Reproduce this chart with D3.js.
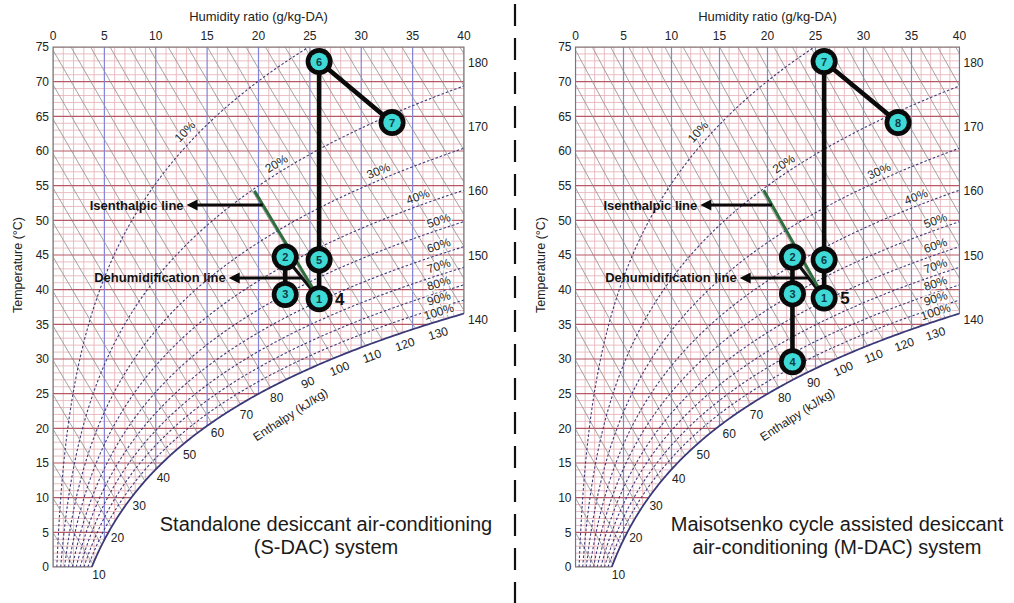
<!DOCTYPE html>
<html>
<head>
<meta charset="utf-8">
<script src="https://cdn.jsdelivr.net/npm/d3@7"></script>
<style>
  body { margin: 0; background: #fff; }
  svg { display: block; }
  text { font-family: Arial, "Liberation Sans", sans-serif; }
</style>
</head>
<body>
<svg id="chart" width="1014" height="603"></svg>
<script>
// ---- axis ticks and chart levels ----
const humidityTicks = [0, 5, 10, 15, 20, 25, 30, 35, 40];
const temperatureTicks = [0, 5, 10, 15, 20, 25, 30, 35, 40, 45, 50, 55, 60, 65, 70, 75];
const rhLevels = [0.1, 0.2, 0.3, 0.4, 0.5, 0.6, 0.7, 0.8, 0.9];
const rhLabels = ["10%", "20%", "30%", "40%", "50%", "60%", "70%", "80%", "90%", "100%"];
const rhLabelW = [13.6, 22.2, 32.0, 35.8, 37.8, 37.8, 37.8, 37.8, 37.8, 37.8];
const saturationLabels = [10, 20, 30, 40, 50, 60, 70, 80, 90, 100, 110, 120, 130];
const edgeEnthalpyLabels = [140, 150, 160, 170, 180];

// ---- state points (humidity ratio g/kg-DA, temperature °C) ----
const sdacStates = [
  { id: "1", w: 25.9, t: 38.7 },
  { id: "2", w: 22.6, t: 44.7 },
  { id: "3", w: 22.6, t: 39.3 },
  { id: "5", w: 25.9, t: 44.3 },
  { id: "6", w: 25.9, t: 72.9 },
  { id: "7", w: 33.0, t: 64.1 }
];
const sdacPaths = [["6", "7"], ["6", "5"], ["5", "1"], ["2", "3"]];

const mdacStates = [
  { id: "1", w: 25.9, t: 38.8 },
  { id: "2", w: 22.6, t: 44.7 },
  { id: "3", w: 22.6, t: 39.4 },
  { id: "4", w: 22.6, t: 29.6 },
  { id: "6", w: 25.9, t: 44.3 },
  { id: "7", w: 25.9, t: 72.9 },
  { id: "8", w: 33.6, t: 64.1 }
];
const mdacPaths = [["7", "8"], ["7", "6"], ["6", "1"], ["2", "3"], ["3", "4"]];

// annotation anchors
const isenthalpicStartW = 19.6;
const isenthalpicArrow = { t: 52.2, headW: 13.0, text: "Isenthalpic line" };
const dehumArrow = { t: 41.7, headW: 17.1, text: "Dehumidification line" };

// ---- moist air relations ----
const P_ATM = 101.325;
const pws = t => 0.61094 * Math.exp(17.625 * t / (t + 243.04));
const wAt = (t, phi) => 622 * phi * pws(t) / (P_ATM - phi * pws(t));
const enthalpy = (t, w) => 1.006 * t + w / 1000 * (2501 + 1.86 * t);
const tOnEnthalpy = (h, w) => (h - 2.501 * w) / (1.006 + 0.00186 * w);
const wOnEnthalpy = (h, t) => (h - 1.006 * t) / (2.501 + 0.00186 * t);
function tAtW(w, phi) {
  let lo = -10, hi = 110;
  for (let i = 0; i < 60; i++) {
    const m = (lo + hi) / 2;
    if (wAt(m, phi) < w) lo = m; else hi = m;
  }
  return (lo + hi) / 2;
}
function tSatForEnthalpy(h) {
  let lo = -10, hi = 80;
  for (let i = 0; i < 60; i++) {
    const m = (lo + hi) / 2;
    if (enthalpy(m, wAt(m, 1)) < h) lo = m; else hi = m;
  }
  return (lo + hi) / 2;
}

const svg = d3.select("#chart");

// dashed separator between the two charts
svg.append("line")
  .attr("x1", 515).attr("x2", 515).attr("y1", 4).attr("y2", 603)
  .attr("stroke", "#111").attr("stroke-width", 2.2)
  .attr("stroke-dasharray", "22,12");

function drawPanel(cfg) {
  const x = d3.scaleLinear().domain([0, 40]).range([cfg.x0, cfg.x1]);
  const y = d3.scaleLinear().domain([0, 75]).range([567, 47]);
  const g = svg.append("g");
  const tEdge = tAtW(40, 1);

  // chart outline: left, top, right edge, saturation curve, bottom
  const satTemps = d3.range(0, tEdge, 0.2).concat([tEdge]);
  const satPts = satTemps.map(t => [x(wAt(t, 1)), y(t)]);
  const outline = [[x(0), y(0)], [x(0), y(75)], [x(40), y(75)], [x(40), y(tEdge)]]
    .concat(satPts.slice().reverse());
  const clipId = "clip-" + cfg.key;
  g.append("clipPath").attr("id", clipId)
    .append("path").attr("d", "M" + outline.map(p => p.join(",")).join("L") + "Z");

  const grid = g.append("g").attr("clip-path", `url(#${clipId})`);
  // minor grid
  d3.range(1, 40).filter(v => v % 5 !== 0).forEach(w => {
    grid.append("line").attr("x1", x(w)).attr("x2", x(w)).attr("y1", y(0)).attr("y2", y(75))
      .attr("stroke", "#e8b6bb").attr("stroke-width", 0.9);
  });
  d3.range(1, 75).filter(v => v % 5 !== 0).forEach(t => {
    grid.append("line").attr("x1", x(0)).attr("x2", x(40)).attr("y1", y(t)).attr("y2", y(t))
      .attr("stroke", "#e8b6bb").attr("stroke-width", 0.9);
  });
  // major grid
  temperatureTicks.forEach(t => {
    grid.append("line").attr("x1", x(0)).attr("x2", x(40)).attr("y1", y(t)).attr("y2", y(t))
      .attr("stroke", "#b85865").attr("stroke-width", 1.1);
  });
  humidityTicks.forEach(w => {
    grid.append("line").attr("x1", x(w)).attr("x2", x(w)).attr("y1", y(0)).attr("y2", y(75))
      .attr("stroke", "#8383d8").attr("stroke-width", 1.2);
  });
  // constant-enthalpy lines
  d3.range(5, 190, 5).forEach(h => {
    const pts = [0, 10, 20, 30, 40].map(w => [x(w), y(tOnEnthalpy(h, w))]);
    grid.append("path").attr("d", d3.line()(pts))
      .attr("fill", "none").attr("stroke", "#8e8e8e").attr("stroke-width", 0.8);
  });
  // relative humidity curves
  rhLevels.forEach(phi => {
    const pts = [];
    for (let t = 0; t <= 75.01; t += 0.25) {
      const w = wAt(t, phi);
      pts.push([x(w), y(t)]);
      if (w > 42) break;
    }
    grid.append("path").attr("d", d3.line()(pts))
      .attr("fill", "none").attr("stroke", "#3c3c7c").attr("stroke-width", 1.1)
      .attr("stroke-dasharray", "2.5,2");
  });

  // outline strokes
  g.append("path")
    .attr("d", d3.line()([[x(wAt(0, 1)), y(0)], [x(0), y(0)], [x(0), y(75)], [x(40), y(75)], [x(40), y(tEdge)]]))
    .attr("fill", "none").attr("stroke", "#777").attr("stroke-width", 1.1);
  g.append("path").attr("d", d3.line()(satPts))
    .attr("fill", "none").attr("stroke", "#3a3a78").attr("stroke-width", 1.8);

  // top axis
  humidityTicks.forEach(w => {
    g.append("text").attr("x", x(w)).attr("y", 40).attr("text-anchor", "middle")
      .attr("font-size", 12).attr("fill", "#222").text(w);
  });
  g.append("text").attr("x", (cfg.x0 + cfg.x1) / 2).attr("y", 21).attr("text-anchor", "middle")
    .attr("font-size", 13).attr("fill", "#222").text("Humidity ratio (g/kg-DA)");
  // left axis
  temperatureTicks.forEach(t => {
    g.append("text").attr("x", cfg.x0 - 4).attr("y", y(t)).attr("dy", "0.35em")
      .attr("text-anchor", "end").attr("font-size", 12).attr("fill", "#222").text(t);
  });
  g.append("text").attr("transform", `translate(${cfg.x0 - 31},265) rotate(-90)`)
    .attr("text-anchor", "middle").attr("font-size", 12.5).attr("fill", "#222")
    .text("Temperature (°C)");

  // enthalpy scale on the right edge
  edgeEnthalpyLabels.forEach(h => {
    const t = tOnEnthalpy(h, 40);
    g.append("text").attr("x", x(40) + 4).attr("y", y(t) + 9).attr("dy", "0.35em")
      .attr("font-size", 12).attr("fill", "#222").text(h);
  });
  // enthalpy labels along the saturation curve
  saturationLabels.forEach(h => {
    const t = tSatForEnthalpy(h);
    const w = wAt(t, 1);
    const w2 = w + 0.5, t2 = tOnEnthalpy(h, w2);
    let dx = x(w2) - x(w), dy = y(t2) - y(t);
    const len = Math.hypot(dx, dy); dx /= len; dy /= len;
    // tangent of saturation curve for tilt of upper labels
    const ta = t + 0.5;
    const ang = Math.atan2(y(ta) - y(t), x(wAt(ta, 1)) - x(w)) * 180 / Math.PI;
    const rot = ang > -25 ? ang : 0;
    const cx = x(w) + dx * 12, cy = y(t) + dy * 12;
    g.append("text").attr("transform", `translate(${cx},${cy}) rotate(${rot})`)
      .attr("text-anchor", "middle").attr("dy", "0.35em")
      .attr("font-size", 12).attr("fill", "#222").text(h);
  });
  g.append("text")
    .attr("transform", `translate(${x(23.1)},${y(22.0)}) rotate(-33)`)
    .attr("text-anchor", "middle").attr("dy", "0.35em")
    .attr("font-size", 12).attr("fill", "#222").text("Enthalpy (kJ/kg)");

  // relative humidity labels
  rhLabels.forEach((lab, i) => {
    const phi = (i + 1) / 10;
    const w = rhLabelW[i];
    const t = tAtW(w, phi);
    const t2 = tAtW(w + 0.3, phi);
    let dx = x(w + 0.3) - x(w), dy = y(t2) - y(t);
    const len = Math.hypot(dx, dy); dx /= len; dy /= len;
    const ang = Math.atan2(dy, dx) * 180 / Math.PI;
    const off = i === 0 ? 11 : 9;
    const cx = x(w) + dy * off, cy = y(t) - dx * off;
    g.append("text").attr("transform", `translate(${cx},${cy}) rotate(${ang})`)
      .attr("text-anchor", "middle").attr("dy", "0.35em")
      .attr("font-size", 12).attr("fill", "#2a2a2a")
      .attr("stroke", "#fff").attr("stroke-width", 3).attr("stroke-opacity", 0.8)
      .attr("paint-order", "stroke").text(lab);
  });

  // ---- process lines ----
  const S = {};
  cfg.states.forEach(s => { S[s.id] = s; });
  const p1 = S["1"], p2 = S["2"];
  const h1 = enthalpy(p1.t, p1.w);

  // dehumidification line (2 -> 1)
  g.append("line").attr("x1", x(p2.w)).attr("y1", y(p2.t)).attr("x2", x(p1.w)).attr("y2", y(p1.t))
    .attr("stroke", "#111").attr("stroke-width", 3.2);
  // isenthalpic line through state 1
  g.append("line")
    .attr("x1", x(isenthalpicStartW)).attr("y1", y(tOnEnthalpy(h1, isenthalpicStartW)))
    .attr("x2", x(p1.w)).attr("y2", y(p1.t))
    .attr("stroke", "#2e6e3e").attr("stroke-width", 3);

  cfg.paths.forEach(([a, b]) => {
    g.append("line").attr("x1", x(S[a].w)).attr("y1", y(S[a].t))
      .attr("x2", x(S[b].w)).attr("y2", y(S[b].t))
      .attr("stroke", "#0a0a0a").attr("stroke-width", 4.6).attr("stroke-linecap", "round");
  });

  // callout arrows
  function callout(tailW, spec) {
    const yy = y(spec.t), hx = x(spec.headW);
    g.append("line").attr("x1", x(tailW)).attr("x2", hx + 8).attr("y1", yy).attr("y2", yy)
      .attr("stroke", "#0a0a0a").attr("stroke-width", 3);
    g.append("path")
      .attr("d", `M${hx},${yy}L${hx + 11},${yy - 5.5}L${hx + 11},${yy + 5.5}Z`)
      .attr("fill", "#0a0a0a");
    g.append("text").attr("x", hx - 3).attr("y", yy).attr("dy", "0.35em")
      .attr("text-anchor", "end").attr("font-size", 13).attr("font-weight", "bold")
      .attr("fill", "#111").text(spec.text);
  }
  callout(wOnEnthalpy(h1, isenthalpicArrow.t), isenthalpicArrow);
  const fr = (p2.t - dehumArrow.t) / (p2.t - p1.t);
  callout(p2.w + fr * (p1.w - p2.w), dehumArrow);

  // state markers
  cfg.states.forEach(s => {
    const m = g.append("g").attr("transform", `translate(${x(s.w)},${y(s.t)})`);
    m.append("circle").attr("r", 13.5).attr("fill", "#0a0a0a");
    m.append("circle").attr("r", 8.8).attr("fill", "#3fd9d6");
    m.append("text").attr("text-anchor", "middle").attr("dy", "0.36em")
      .attr("font-size", 11).attr("font-weight", "bold").attr("fill", "#0c3c44").text(s.id);
  });
  g.append("text").attr("x", x(p1.w) + 16).attr("y", y(p1.t)).attr("dy", "0.36em")
    .attr("font-size", 17).attr("font-weight", "bold").attr("fill", "#111").text(cfg.sameAs);

  // caption
  cfg.caption.forEach((line, i) => {
    g.append("text").attr("x", cfg.captionX).attr("y", 531 + i * 23)
      .attr("text-anchor", "middle").attr("font-size", 20).attr("fill", "#1a1a1a").text(line);
  });
}

drawPanel({
  key: "sdac", x0: 53, x1: 464, states: sdacStates, paths: sdacPaths, sameAs: "4",
  caption: ["Standalone desiccant air-conditioning", "(S-DAC) system"], captionX: 326
});
drawPanel({
  key: "mdac", x0: 575.5, x1: 959.5, states: mdacStates, paths: mdacPaths, sameAs: "5",
  caption: ["Maisotsenko cycle assisted desiccant", "air-conditioning (M-DAC) system"], captionX: 837
});
</script>
</body>
</html>
